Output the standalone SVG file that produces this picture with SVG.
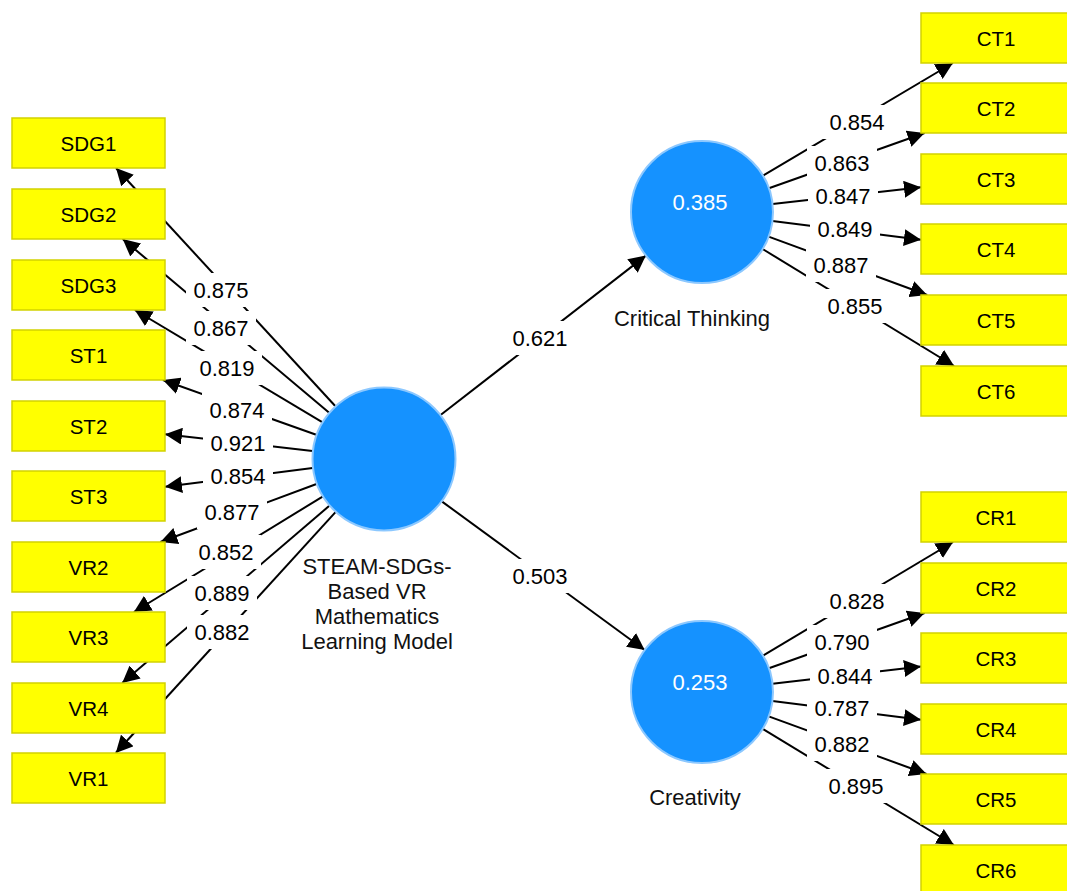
<svg xmlns="http://www.w3.org/2000/svg" width="1067" height="891" viewBox="0 0 1067 891">
<style>
.box{fill:#ffff00;stroke:#d2d200;stroke-width:1.5}
.lv{fill:#1592ff;stroke:#8cc8ff;stroke-width:2}
.bt{font-family:"Liberation Sans",Arial,sans-serif;font-size:20.5px;fill:#000;text-anchor:middle}
.lt{font-family:"Liberation Sans",Arial,sans-serif;font-size:22px;fill:#111;text-anchor:middle}
.vt{font-family:"Liberation Sans",Arial,sans-serif;font-size:22px;fill:#fff;text-anchor:middle}
.wt{font-family:"Liberation Sans",Arial,sans-serif;font-size:22px;fill:#000;text-anchor:middle}
.ln{stroke:#000;stroke-width:2;fill:none;marker-end:url(#arr)}
.bg{fill:#fff}
</style>
<defs>
<marker id="arr" markerWidth="17" markerHeight="17" refX="17" refY="8.5" orient="auto" markerUnits="userSpaceOnUse">
<path d="M0,0 L17,8.5 L0,17 Z" fill="#000"/>
</marker>
</defs>
<rect x="0" y="0" width="1067" height="891" fill="#fff"/>
<g id="connectors">
<line class="ln" x1="335.2" y1="406" x2="116" y2="168"/>
<line class="ln" x1="328.9" y1="412.6" x2="122.7" y2="239"/>
<line class="ln" x1="322.2" y1="422.1" x2="134.8" y2="310"/>
<line class="ln" x1="316.2" y1="434.8" x2="162.9" y2="380"/>
<line class="ln" x1="312.5" y1="450.9" x2="165" y2="434.2"/>
<line class="ln" x1="312.6" y1="468.1" x2="165" y2="486.8"/>
<line class="ln" x1="316.5" y1="484" x2="160.4" y2="542"/>
<line class="ln" x1="322.6" y1="496.6" x2="133.9" y2="612"/>
<line class="ln" x1="329.3" y1="505.8" x2="122.2" y2="683"/>
<line class="ln" x1="335.5" y1="512.2" x2="115.8" y2="753"/>
<line class="ln" x1="440.9" y1="414.8" x2="645.9" y2="255.6"/>
<line class="ln" x1="442.1" y1="501.6" x2="644.7" y2="650"/>
<line class="ln" x1="763" y1="175.7" x2="952.9" y2="63"/>
<line class="ln" x1="768.9" y1="188.3" x2="924.6" y2="133"/>
<line class="ln" x1="772.5" y1="204.1" x2="921" y2="187.3"/>
<line class="ln" x1="772.4" y1="220.9" x2="921" y2="239.7"/>
<line class="ln" x1="768.6" y1="236.6" x2="927.2" y2="295"/>
<line class="ln" x1="762.6" y1="249" x2="954.1" y2="366"/>
<line class="ln" x1="763" y1="655.6" x2="953.1" y2="542"/>
<line class="ln" x1="768.9" y1="668.3" x2="924.6" y2="613"/>
<line class="ln" x1="772.5" y1="683.8" x2="921" y2="666.6"/>
<line class="ln" x1="772.4" y1="700.9" x2="921" y2="719.7"/>
<line class="ln" x1="768.7" y1="716.4" x2="926.5" y2="774"/>
<line class="ln" x1="762.7" y1="728.9" x2="953.9" y2="845"/>
</g>
<g id="connector-labels">
<rect class="bg" x="186" y="273" width="70" height="34"/>
<rect class="bg" x="186" y="311" width="70" height="34"/>
<rect class="bg" x="192" y="351" width="70" height="34"/>
<rect class="bg" x="202" y="393" width="70" height="34"/>
<rect class="bg" x="203" y="427" width="70" height="32"/>
<rect class="bg" x="203" y="460" width="70" height="32"/>
<rect class="bg" x="197" y="495" width="70" height="34"/>
<rect class="bg" x="191" y="535" width="70" height="34"/>
<rect class="bg" x="187" y="576" width="70" height="34"/>
<rect class="bg" x="187" y="615" width="70" height="34"/>
<rect class="bg" x="505" y="321" width="70" height="34"/>
<rect class="bg" x="505" y="559" width="70" height="34"/>
<rect class="bg" x="822" y="105" width="70" height="34"/>
<rect class="bg" x="807" y="146" width="70" height="33"/>
<rect class="bg" x="808" y="180" width="70" height="32"/>
<rect class="bg" x="810" y="213" width="70" height="32"/>
<rect class="bg" x="806" y="248" width="70" height="34"/>
<rect class="bg" x="820" y="289" width="70" height="34"/>
<rect class="bg" x="822" y="584" width="70" height="34"/>
<rect class="bg" x="807" y="625" width="70" height="33"/>
<rect class="bg" x="810" y="660" width="70" height="32"/>
<rect class="bg" x="807" y="692" width="70" height="32"/>
<rect class="bg" x="807" y="727" width="70" height="34"/>
<rect class="bg" x="821" y="769" width="70" height="34"/>
<text class="wt" x="221" y="298">0.875</text>
<text class="wt" x="221" y="336">0.867</text>
<text class="wt" x="227" y="376">0.819</text>
<text class="wt" x="237" y="418">0.874</text>
<text class="wt" x="238" y="451">0.921</text>
<text class="wt" x="238" y="484">0.854</text>
<text class="wt" x="232" y="520">0.877</text>
<text class="wt" x="226" y="560">0.852</text>
<text class="wt" x="222" y="601">0.889</text>
<text class="wt" x="222" y="640">0.882</text>
<text class="wt" x="540" y="346">0.621</text>
<text class="wt" x="540" y="584">0.503</text>
<text class="wt" x="857" y="130">0.854</text>
<text class="wt" x="842" y="171">0.863</text>
<text class="wt" x="843" y="204">0.847</text>
<text class="wt" x="845" y="237">0.849</text>
<text class="wt" x="841" y="273">0.887</text>
<text class="wt" x="855" y="314">0.855</text>
<text class="wt" x="857" y="609">0.828</text>
<text class="wt" x="842" y="650">0.790</text>
<text class="wt" x="845" y="684">0.844</text>
<text class="wt" x="842" y="716">0.787</text>
<text class="wt" x="842" y="752">0.882</text>
<text class="wt" x="856" y="794">0.895</text>
</g>
<g id="SDG1"><rect class="box" x="12" y="118" width="153" height="50"/><text class="bt" x="88.5" y="150.5">SDG1</text></g>
<g id="SDG2"><rect class="box" x="12" y="189" width="153" height="50"/><text class="bt" x="88.5" y="221.5">SDG2</text></g>
<g id="SDG3"><rect class="box" x="12" y="260" width="153" height="50"/><text class="bt" x="88.5" y="292.5">SDG3</text></g>
<g id="ST1"><rect class="box" x="12" y="330" width="153" height="50"/><text class="bt" x="88.5" y="362.5">ST1</text></g>
<g id="ST2"><rect class="box" x="12" y="401" width="153" height="50"/><text class="bt" x="88.5" y="433.5">ST2</text></g>
<g id="ST3"><rect class="box" x="12" y="471" width="153" height="50"/><text class="bt" x="88.5" y="503.5">ST3</text></g>
<g id="VR2"><rect class="box" x="12" y="542" width="153" height="50"/><text class="bt" x="88.5" y="574.5">VR2</text></g>
<g id="VR3"><rect class="box" x="12" y="612" width="153" height="50"/><text class="bt" x="88.5" y="644.5">VR3</text></g>
<g id="VR4"><rect class="box" x="12" y="683" width="153" height="50"/><text class="bt" x="88.5" y="715.5">VR4</text></g>
<g id="VR1"><rect class="box" x="12" y="753" width="153" height="50"/><text class="bt" x="88.5" y="785.5">VR1</text></g>
<g id="CT1"><rect class="box" x="921" y="13" width="153" height="50"/><text class="bt" x="996" y="45.5">CT1</text></g>
<g id="CT2"><rect class="box" x="921" y="83" width="153" height="50"/><text class="bt" x="996" y="115.5">CT2</text></g>
<g id="CT3"><rect class="box" x="921" y="154" width="153" height="50"/><text class="bt" x="996" y="186.5">CT3</text></g>
<g id="CT4"><rect class="box" x="921" y="224" width="153" height="50"/><text class="bt" x="996" y="256.5">CT4</text></g>
<g id="CT5"><rect class="box" x="921" y="295" width="153" height="50"/><text class="bt" x="996" y="327.5">CT5</text></g>
<g id="CT6"><rect class="box" x="921" y="366" width="153" height="50"/><text class="bt" x="996" y="398.5">CT6</text></g>
<g id="CR1"><rect class="box" x="921" y="492" width="153" height="50"/><text class="bt" x="996" y="524.5">CR1</text></g>
<g id="CR2"><rect class="box" x="921" y="563" width="153" height="50"/><text class="bt" x="996" y="595.5">CR2</text></g>
<g id="CR3"><rect class="box" x="921" y="633" width="153" height="50"/><text class="bt" x="996" y="665.5">CR3</text></g>
<g id="CR4"><rect class="box" x="921" y="704" width="153" height="50"/><text class="bt" x="996" y="736.5">CR4</text></g>
<g id="CR5"><rect class="box" x="921" y="774" width="153" height="50"/><text class="bt" x="996" y="806.5">CR5</text></g>
<g id="CR6"><rect class="box" x="921" y="845" width="153" height="50"/><text class="bt" x="996" y="877.5">CR6</text></g>
<g id="STEAM">
<circle class="lv" cx="384" cy="459" r="71.5"/>
<text class="lt" x="377" y="574">STEAM-SDGs-</text>
<text class="lt" x="377" y="599">Based VR</text>
<text class="lt" x="377" y="624">Mathematics</text>
<text class="lt" x="377" y="649">Learning Model</text>
</g>
<g id="CriticalThinking">
<circle class="lv" cx="702" cy="212" r="71"/>
<text class="vt" x="700" y="210">0.385</text>
<text class="lt" x="692" y="326">Critical Thinking</text>
</g>
<g id="Creativity">
<circle class="lv" cx="702" cy="692" r="71"/>
<text class="vt" x="700" y="690">0.253</text>
<text class="lt" x="695" y="805">Creativity</text>
</g>
</svg>
